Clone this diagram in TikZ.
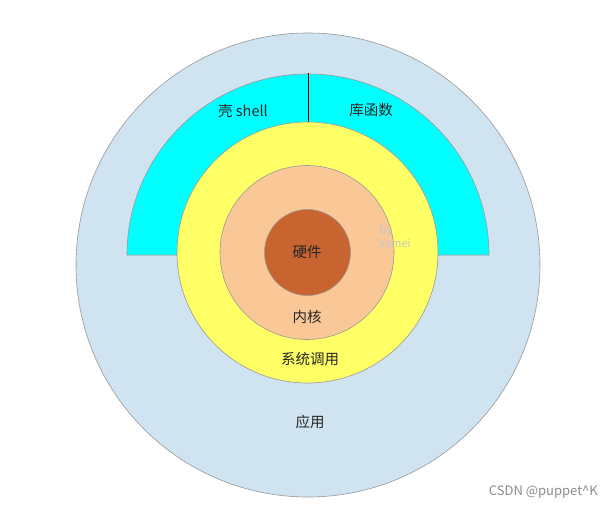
\documentclass[tikz,border=0pt]{standalone}
\usepackage{fontspec}
\setmainfont{Noto Sans CJK SC}
\begin{document}
\begin{tikzpicture}[x=1pt,y=-1pt,
  ring/.style={draw=gray!80,line width=0.6pt},
  lbl/.style={font=\fontsize{14.5}{16}\selectfont,text=black!85}]
\useasboundingbox (0,0) rectangle (613,511);
\fill[white] (0,0) rectangle (613,511);
\filldraw[ring,fill={rgb,255:red,207;green,227;blue,241}] (308,265) circle (232);
\filldraw[ring,fill={rgb,255:red,0;green,255;blue,255}] (127,255) arc[start angle=180,end angle=360,radius=181] -- cycle;
\draw[black] (308,73) -- (308,125);
\filldraw[ring,fill={rgb,255:red,255;green,255;blue,102}] (307.5,252.5) circle (130.5);
\filldraw[ring,fill={rgb,255:red,250;green,199;blue,151}] (307,252.5) circle (87);
\filldraw[ring,fill={rgb,255:red,200;green,100;blue,48}] (307.5,252.5) circle (43);
\node[lbl] (shell) at (243,111) {壳 shell};
\node[lbl] (lib) at (371,110) {库函数};
\node[lbl] (hw) at (307,252) {硬件};
\node[lbl] (kern) at (307,317) {内核};
\node[lbl] (sys) at (310,359) {系统调用};
\node[lbl] (app) at (310,422) {应用};
\node[font=\fontsize{11}{13}\selectfont,text=gray!45,align=left,anchor=north west,inner sep=0] (by) at (379,226) {By\\Vamei};
\node[font=\fontsize{13}{15}\selectfont,text=gray!90,anchor=east,inner sep=0] (csdn) at (598,492) {CSDN @puppet\textasciicircum K};
\end{tikzpicture}
\end{document}
